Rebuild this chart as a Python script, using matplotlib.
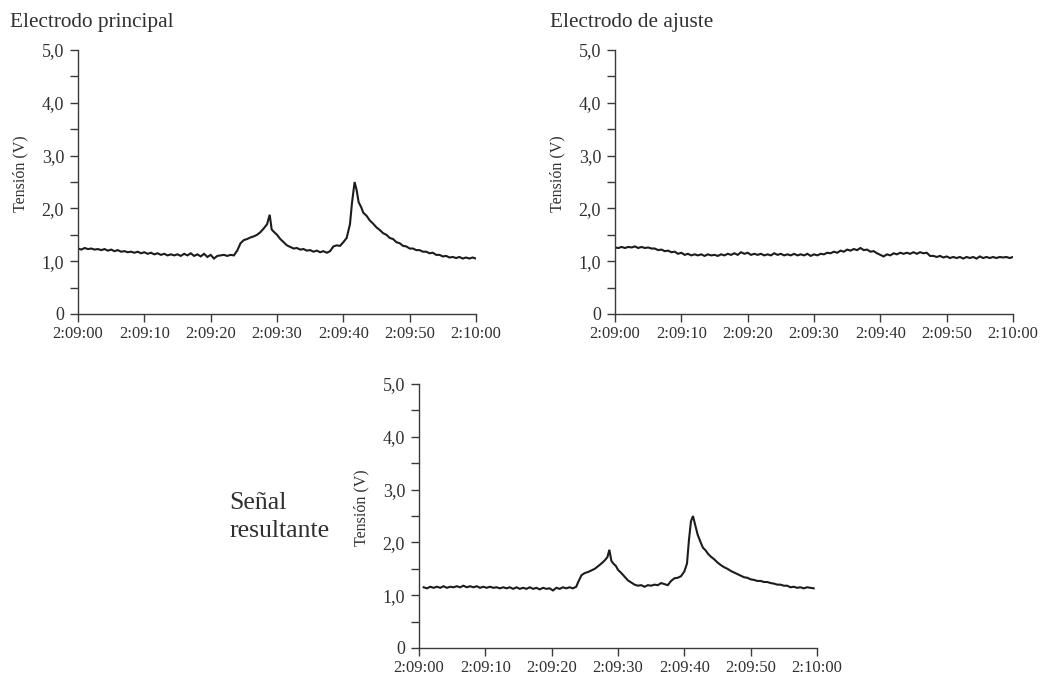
import matplotlib
matplotlib.use("Agg")
import matplotlib.pyplot as plt
from matplotlib.ticker import FixedLocator, FixedFormatter

plt.rcParams['font.family'] = ['Liberation Serif', 'DejaVu Serif']

# ---------------- data (seconds after 2:09:00, volts) ----------------
time_labels = ["2:09:00", "2:09:10", "2:09:20", "2:09:30", "2:09:40", "2:09:50", "2:10:00"]
time_ticks = [0, 10, 20, 30, 40, 50, 60]
volt_ticks = [0, 0.5, 1, 1.5, 2, 2.5, 3, 3.5, 4, 4.5, 5]
volt_labels = ["0", "", "1,0", "", "2,0", "", "3,0", "", "4,0", "", "5,0"]

t_principal = [0.0, 0.5, 1.0, 1.5, 2.0, 2.5, 3.0, 3.5, 4.0, 4.5, 5.0, 5.5, 6.0, 6.5, 7.0, 7.5,
               8.0, 8.5, 9.0, 9.5, 10.0, 10.5, 11.0, 11.5, 12.0, 12.5, 13.0, 13.5, 14.0, 14.5,
               15.0, 15.5, 16.0, 16.5, 17.0, 17.5, 18.0, 18.5, 19.0, 19.5, 20.0, 20.5, 21.0,
               21.5, 22.0, 22.5, 23.0, 23.5, 24.0, 24.5, 25.0, 25.5, 26.0, 26.5, 27.0, 27.5,
               28.0, 28.5, 28.9, 29.2, 29.5, 30.0, 30.5, 31.0, 31.5, 32.0, 32.5, 33.0, 33.5,
               34.0, 34.5, 35.0, 35.5, 36.0, 36.5, 37.0, 37.5, 38.0, 38.5, 39.0, 39.5, 40.0,
               40.5, 41.0, 41.3, 41.7, 42.0, 42.3, 42.7, 43.0, 43.5, 44.0, 44.5, 45.0, 45.5,
               46.0, 46.5, 47.0, 47.5, 48.0, 48.5, 49.0, 49.5, 50.0, 50.5, 51.0, 51.5, 52.0,
               52.5, 53.0, 53.5, 54.0, 54.5, 55.0, 55.5, 56.0, 56.5, 57.0, 57.5, 58.0, 58.5,
               59.0, 59.5, 60.0]
v_principal = [1.24, 1.22, 1.25, 1.23, 1.24, 1.22, 1.23, 1.21, 1.23, 1.20, 1.22, 1.19, 1.21, 1.18,
               1.19, 1.17, 1.18, 1.16, 1.18, 1.15, 1.17, 1.14, 1.16, 1.13, 1.15, 1.12, 1.14, 1.11,
               1.13, 1.11, 1.13, 1.10, 1.14, 1.11, 1.15, 1.10, 1.13, 1.09, 1.14, 1.08, 1.12, 1.05,
               1.10, 1.11, 1.12, 1.10, 1.12, 1.11, 1.20, 1.34, 1.40, 1.42, 1.45, 1.47, 1.50, 1.55,
               1.62, 1.70, 1.88, 1.60, 1.56, 1.50, 1.42, 1.36, 1.30, 1.27, 1.24, 1.25, 1.22, 1.23,
               1.20, 1.21, 1.18, 1.20, 1.17, 1.19, 1.16, 1.19, 1.28, 1.30, 1.29, 1.36, 1.44, 1.70,
               2.10, 2.50, 2.35, 2.12, 2.02, 1.92, 1.86, 1.77, 1.71, 1.64, 1.59, 1.53, 1.50, 1.44,
               1.42, 1.36, 1.34, 1.29, 1.28, 1.24, 1.24, 1.21, 1.21, 1.18, 1.18, 1.15, 1.16, 1.12,
               1.12, 1.09, 1.10, 1.07, 1.08, 1.06, 1.08, 1.05, 1.07, 1.05, 1.07, 1.05]

t_ajuste = [0.0, 0.5, 1.0, 1.5, 2.0, 2.5, 3.0, 3.5, 4.0, 4.5, 5.0, 5.5, 6.0, 6.5, 7.0, 7.5, 8.0,
            8.5, 9.0, 9.5, 10.0, 10.5, 11.0, 11.5, 12.0, 12.5, 13.0, 13.5, 14.0, 14.5, 15.0,
            15.5, 16.0, 16.5, 17.0, 17.5, 18.0, 18.5, 19.0, 19.5, 20.0, 20.5, 21.0, 21.5, 22.0,
            22.5, 23.0, 23.5, 24.0, 24.5, 25.0, 25.5, 26.0, 26.5, 27.0, 27.5, 28.0, 28.5, 29.0,
            29.5, 30.0, 30.5, 31.0, 31.5, 32.0, 32.5, 33.0, 33.5, 34.0, 34.5, 35.0, 35.5, 36.0,
            36.5, 37.0, 37.5, 38.0, 38.5, 39.0, 39.5, 40.0, 40.5, 41.0, 41.5, 42.0, 42.5, 43.0,
            43.5, 44.0, 44.5, 45.0, 45.5, 46.0, 46.5, 47.0, 47.5, 48.0, 48.5, 49.0, 49.5, 50.0,
            50.5, 51.0, 51.5, 52.0, 52.5, 53.0, 53.5, 54.0, 54.5, 55.0, 55.5, 56.0, 56.5, 57.0,
            57.5, 58.0, 58.5, 59.0, 59.5, 60.0]
v_ajuste = [1.26, 1.25, 1.27, 1.25, 1.27, 1.26, 1.28, 1.25, 1.27, 1.25, 1.26, 1.24, 1.24, 1.21,
            1.22, 1.19, 1.20, 1.17, 1.18, 1.14, 1.16, 1.12, 1.14, 1.11, 1.13, 1.11, 1.13, 1.10,
            1.13, 1.11, 1.12, 1.10, 1.13, 1.11, 1.14, 1.12, 1.15, 1.12, 1.17, 1.14, 1.16, 1.12,
            1.14, 1.12, 1.14, 1.11, 1.13, 1.11, 1.15, 1.12, 1.14, 1.11, 1.13, 1.11, 1.14, 1.11,
            1.13, 1.11, 1.14, 1.10, 1.13, 1.11, 1.14, 1.13, 1.16, 1.15, 1.18, 1.16, 1.20, 1.18,
            1.22, 1.20, 1.23, 1.21, 1.25, 1.21, 1.22, 1.18, 1.19, 1.15, 1.12, 1.09, 1.13, 1.11,
            1.15, 1.13, 1.16, 1.14, 1.16, 1.14, 1.17, 1.14, 1.17, 1.15, 1.16, 1.10, 1.10, 1.08,
            1.10, 1.07, 1.09, 1.06, 1.08, 1.06, 1.08, 1.05, 1.08, 1.06, 1.08, 1.05, 1.09, 1.06,
            1.08, 1.06, 1.08, 1.06, 1.08, 1.07, 1.08, 1.06, 1.08]

t_resultante = [0.7, 1.2, 1.7, 2.2, 2.7, 3.2, 3.7, 4.2, 4.7, 5.2, 5.7, 6.2, 6.7, 7.2, 7.7, 8.2,
                8.7, 9.2, 9.7, 10.2, 10.7, 11.2, 11.7, 12.2, 12.7, 13.2, 13.7, 14.2, 14.7, 15.2,
                15.7, 16.2, 16.7, 17.2, 17.7, 18.2, 18.7, 19.2, 19.7, 20.2, 20.7, 21.2, 21.7,
                22.2, 22.7, 23.2, 23.7, 24.0, 24.5, 25.0, 25.5, 26.0, 26.5, 27.0, 27.5, 28.0,
                28.4, 28.7, 29.0, 29.3, 29.7, 30.0, 30.5, 31.0, 31.5, 32.0, 32.5, 33.0, 33.5,
                34.0, 34.5, 35.0, 35.5, 36.0, 36.5, 37.0, 37.5, 38.0, 38.5, 39.0, 39.5, 40.0,
                40.4, 40.7, 41.0, 41.3, 41.6, 42.0, 42.4, 42.8, 43.2, 43.6, 44.0, 44.5, 45.0,
                45.5, 46.0, 46.5, 47.0, 47.5, 48.0, 48.5, 49.0, 49.5, 50.0, 50.5, 51.0, 51.5,
                52.0, 52.5, 53.0, 53.5, 54.0, 54.5, 55.0, 55.5, 56.0, 56.5, 57.0, 57.5, 58.0,
                58.5, 59.0, 59.5]
v_resultante = [1.15, 1.13, 1.16, 1.14, 1.16, 1.14, 1.17, 1.14, 1.16, 1.15, 1.17, 1.15, 1.18, 1.15,
                1.17, 1.15, 1.17, 1.14, 1.16, 1.14, 1.16, 1.14, 1.15, 1.13, 1.15, 1.13, 1.15, 1.12,
                1.15, 1.12, 1.14, 1.12, 1.15, 1.12, 1.14, 1.11, 1.14, 1.12, 1.13, 1.09, 1.14, 1.12,
                1.15, 1.13, 1.15, 1.13, 1.16,
                1.25, 1.38, 1.42, 1.44, 1.47, 1.50, 1.55, 1.60, 1.66,
                1.72, 1.86, 1.65, 1.60, 1.55,
                1.48, 1.42, 1.35, 1.28, 1.24, 1.20, 1.18, 1.19, 1.16, 1.19, 1.18, 1.20, 1.19,
                1.23, 1.21, 1.19, 1.27, 1.32, 1.33, 1.36, 1.45,
                1.60, 2.05, 2.40, 2.50, 2.35, 2.15, 2.02, 1.90, 1.85, 1.78,
                1.73, 1.68, 1.62, 1.57, 1.53, 1.50, 1.46, 1.43, 1.40, 1.37, 1.34, 1.33, 1.30,
                1.29, 1.27, 1.27, 1.25, 1.25, 1.23, 1.22, 1.20, 1.20, 1.18, 1.18, 1.15, 1.16,
                1.14, 1.15, 1.13, 1.15, 1.14, 1.13]

# ---------------- figure ----------------
W, H = 1042, 679
fig = plt.figure(figsize=(W / 100, H / 100), dpi=100)
fig.patch.set_facecolor('white')

txt_color = '#303030'
spine_color = '#3a3a3a'
line_color = '#1c1c1c'


def px_axes(left, top, right, bottom):
    return fig.add_axes([left / W, 1 - bottom / H, (right - left) / W, (bottom - top) / H])


def style(ax, t, v):
    ax.plot(t, v, color=line_color, lw=1.5, solid_joinstyle='miter')
    ax.set_xlim(0, 60)
    ax.set_ylim(0, 5)
    for s in ('top', 'right'):
        ax.spines[s].set_visible(False)
    for s in ('left', 'bottom'):
        ax.spines[s].set_color(spine_color)
        ax.spines[s].set_linewidth(1.0)
    ax.xaxis.set_major_locator(FixedLocator(time_ticks))
    ax.xaxis.set_major_formatter(FixedFormatter(time_labels))
    ax.yaxis.set_major_locator(FixedLocator(volt_ticks))
    ax.yaxis.set_major_formatter(FixedFormatter(volt_labels))
    ax.tick_params(axis='x', direction='out', length=6, width=1.0, color=spine_color,
                   labelsize=12, labelcolor=txt_color, pad=3)
    ax.tick_params(axis='y', direction='out', length=6, width=1.0, color=spine_color,
                   labelsize=13, labelcolor=txt_color, pad=4)
    ax.set_ylabel('Tensión (V)', fontsize=11.5, color=txt_color)
    ax.yaxis.set_label_coords(-0.125, 0.53)
    ax.patch.set_alpha(0)


ax1 = px_axes(78, 50, 476, 314)
style(ax1, t_principal, v_principal)
ax2 = px_axes(615, 50, 1013, 314)
style(ax2, t_ajuste, v_ajuste)
ax3 = px_axes(419, 384, 817, 648)
style(ax3, t_resultante, v_resultante)

fig.text(10 / W, 1 - 22 / H, 'Electrodo principal', fontsize=15.3, color=txt_color,
         ha='left', va='center')
fig.text(550 / W, 1 - 22 / H, 'Electrodo de ajuste', fontsize=15.3, color=txt_color,
         ha='left', va='center')
fig.text(229 / W, 1 - 517 / H, 'Señal\nresultante', fontsize=18.5, color=txt_color,
         ha='left', va='center', linespacing=1.3)

fig.savefig('out.png', dpi=100)
